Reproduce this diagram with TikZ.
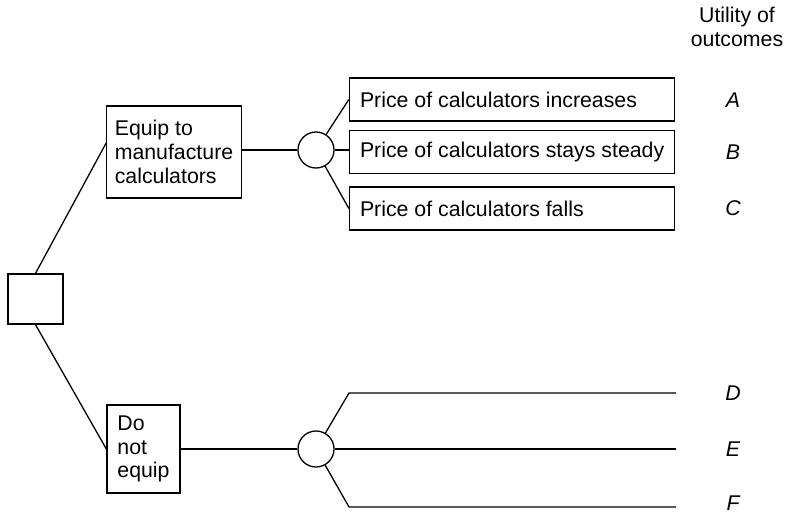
\documentclass[tikz,border=0pt]{standalone}
\usepackage{fontspec}
\setmainfont{Liberation Sans}
\usetikzlibrary{positioning, calc}
\newcommand\evtxt[1]{\makebox[152pt][l]{#1}}
\tikzset{
  txt/.style ={font=\fontsize{10.65}{11.85}\selectfont},
  dsq/.style ={rectangle, draw, minimum width=27.5pt, minimum height=25pt},
  act/.style ={txt, rectangle, draw, align=left, inner xsep=4pt},
  evt/.style ={txt, rectangle, draw, inner xsep=5.25pt, minimum height=21.5pt},
  chn/.style ={circle, draw, minimum size=18pt, inner sep=0pt},
  utl/.style ={font=\fontsize{10.65}{11.85}\selectfont\itshape},
  ln/.style  ={line width=0.65pt},
}

\begin{document}
\begin{tikzpicture}[x=0.5pt, y=-0.5pt, line width=0.65pt]
  \useasboundingbox (0,0) rectangle (786,514);
  \node[dsq] (sq) at (35.5,299) {};
  \node[act, minimum width=67pt, minimum height=46pt] (eq) at (174,152) {Equip to\\manufacture\\calculators};
  \node[act, minimum width=36.5pt, minimum height=44pt] (ne) at (143.5,449) {Do\\not\\equip};
  \node[chn] (c1) at (316,150) {};
  \node[chn] (c2) at (316,449) {};
  \node[evt] (pa) at (512,99.5) {\evtxt{Price of calculators increases}};
  \node[evt] (pb) at (512,152) {\evtxt{Price of calculators stays steady}};
  \node[evt] (pc) at (512,208.5) {\evtxt{Price of calculators falls}};
  \node[txt, align=center] (hd) at (737,27) {Utility of\\outcomes};
  \node[utl] (uA) at (733,100) {A};
  \node[utl] (uB) at (733,152) {B};
  \node[utl] (uC) at (733,208) {C};
  \node[utl] (uD) at (733,393) {D};
  \node[utl] (uE) at (733,449) {E};
  \node[utl] (uF) at (733,503) {F};
  \coordinate (d0) at (349,393);
  \coordinate (d1) at (676,393);
  \coordinate (e1) at (676,449);
  \coordinate (f0) at (349,507);
  \coordinate (f1) at (676,507);
  \draw[ln] (sq.north) -- ([yshift=4.5pt]eq.west);
  \draw[ln] (sq.south) -- (ne.west);
  \draw[ln] (eq.east |- c1) -- (c1);
  \draw[ln] (c1) -- (pa.west);
  \draw[ln] (c1) -- (c1 -| pb.west);
  \draw[ln] (c1) -- (pc.west);
  \draw[ln] (ne.east |- c2) -- (c2);
  \draw[ln] (c2) -- (d0) -- (d1);
  \draw[ln] (c2) -- (e1);
  \draw[ln] (c2) -- (f0) -- (f1);
\end{tikzpicture}
\end{document}
